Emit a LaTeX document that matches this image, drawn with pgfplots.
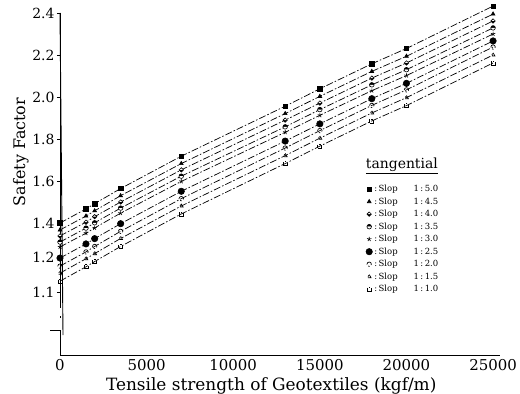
\documentclass[border=0pt]{standalone}
\usepackage{fontspec}
\setmainfont{DejaVu Serif}
\usepackage{pgfplots}
\usepackage{pgfplotstable}
\pgfplotsset{compat=1.18}
\usetikzlibrary{plotmarks}

\pgfplotstableread{
x     s1    s2    s3    s4    s5    s6    s7    s8    s9
0     1.400 1.359 1.324 1.288 1.259 1.197 1.174 1.154 1.131
1500  1.467 1.433 1.404 1.370 1.340 1.277 1.230 1.195 1.172
2000  1.492 1.458 1.430 1.401 1.371 1.308 1.262 1.220 1.187
3500  1.564 1.530 1.500 1.471 1.447 1.396 1.351 1.309 1.262
7000  1.718 1.683 1.653 1.623 1.598 1.551 1.516 1.481 1.443
13000 1.956 1.921 1.890 1.858 1.832 1.790 1.757 1.721 1.683
15000 2.039 2.003 1.971 1.940 1.913 1.872 1.840 1.804 1.766
18000 2.158 2.122 2.090 2.058 2.030 1.992 1.960 1.924 1.886
20000 2.231 2.194 2.162 2.130 2.102 2.065 2.034 1.997 1.959
25000 2.433 2.395 2.362 2.329 2.300 2.267 2.238 2.200 2.162
}\safety

\begin{document}
\begin{tikzpicture}
\useasboundingbox (-60bp,-39bp) rectangle (460bp,355bp);
\begin{axis}[
  scale only axis, width=440bp, height=352.5bp,
  xmin=0, xmax=25400, ymin=0.92, ymax=2.45,
  clip=false,
  y coord trafo/.code={%
    \begingroup
    \pgfkeys{/pgf/fpu=false}%
    \pgfmathparse{(#1>=1.4)*(#1)+(#1<1.4)*(#1>=1.2)*(1.4-(1.4-#1)*0.809524)+(#1<1.2)*(1.238095-(1.2-#1)*1.666667)}%
    \global\let\mytrafores\pgfmathresult
    \endgroup
    \let\pgfmathresult\mytrafores
  },
  axis x line*=bottom, axis y line*=left,
  x axis line style={-, line width=0.9bp},
  y axis line style={draw=none},
  scaled x ticks=false,
  xtick={0,5000,10000,15000,20000,25000},
  xticklabels={0,5000,10000,15000,20000,25000},
  xtick style={draw=none},
  ytick={1.1,1.2,1.4,1.6,1.8,2.0,2.2,2.4},
  yticklabels={1.1,1.2,1.4,1.6,1.8,2.0,2.2,2.4},
  ytick style={line width=0.7bp, black},
  tick align=outside, major tick length=3bp,
  xticklabel style={font=\fontsize{15}{16}\selectfont, yshift=2bp},
  yticklabel style={font=\fontsize{14}{15}\selectfont, xshift=1bp},
  xlabel={Tensile strength of Geotextiles (kgf/m)},
  xlabel style={font=\fontsize{17}{18}\selectfont, at={(axis description cs:0.48,0)}, anchor=north, yshift=-19bp},
  ylabel={Safety Factor},
  ylabel style={font=\fontsize{16}{17}\selectfont, at={(axis description cs:-0.089,0.576)}, anchor=center, rotate=0},
  every axis plot/.append style={black, line width=0.7bp, dash pattern=on 7bp off 2bp on 1.5bp off 2bp,
    mark options={solid, draw=black, fill=black, line width=0.6bp}},
  legend image code/.code={\draw[#1] plot coordinates {(0.1cm,0cm)};},
  legend style={at={(axis description cs:0.695,0.488)}, anchor=north west, draw=none, fill=none,
    font=\fontsize{8.5}{9}\selectfont, inner sep=0pt, row sep=0.6bp, cells={anchor=west}},
  legend cell align=left,
]
\addplot[black, mark=square*, mark size=2.2bp] table[x=x,y=s1]{\safety};
\addlegendentry{:\,Slop\hspace{16bp}1\,:\,5.0}
\addplot[black, mark=triangle*, mark size=2.2bp] table[x=x,y=s2]{\safety};
\addlegendentry{:\,Slop\hspace{16bp}1\,:\,4.5}
\addplot[black, mark=halfsquare*, mark size=2.2bp] table[x=x,y=s3]{\safety};
\addlegendentry{:\,Slop\hspace{16bp}1\,:\,4.0}
\addplot[black, mark=halfcircle*, mark size=2.3bp] table[x=x,y=s4]{\safety};
\addlegendentry{:\,Slop\hspace{16bp}1\,:\,3.5}
\addplot[black, mark=star, mark size=2.3bp] table[x=x,y=s5]{\safety};
\addlegendentry{:\,Slop\hspace{16bp}1\,:\,3.0}
\addplot[black, mark=*, mark size=3.2bp] table[x=x,y=s6]{\safety};
\addlegendentry{:\,Slop\hspace{16bp}1\,:\,2.5}
\addplot[black, mark=o, mark size=2.2bp, mark options={fill=white}] table[x=x,y=s7]{\safety};
\addlegendentry{:\,Slop\hspace{16bp}1\,:\,2.0}
\addplot[black, mark=triangle, mark size=2.2bp, mark options={fill=white}] table[x=x,y=s8]{\safety};
\addlegendentry{:\,Slop\hspace{16bp}1\,:\,1.5}
\addplot[black, mark=square, mark size=2bp, mark options={fill=white}] table[x=x,y=s9]{\safety};
\addlegendentry{:\,Slop\hspace{16bp}1\,:\,1.0}
% broken y axis line
\draw[line width=0.9bp, solid] (rel axis cs:0,0.9702) -- ++(3bp,0);
\draw[line width=0.9bp, solid] (rel axis cs:0,0.9702) -- (rel axis cs:0,0.1333);
\draw[line width=0.5bp, solid] (rel axis cs:0,0.110) -- (rel axis cs:0,0.106);
\draw[line width=0.9bp, solid] (rel axis cs:-0.0227,0.0709) -- (rel axis cs:0,0.0709) -- (rel axis cs:0,0);
\node[font=\fontsize{14}{15}\selectfont, inner sep=1bp] at (axis description cs:0.777,0.536) {\underline{tangential}};
\end{axis}
\end{tikzpicture}
\end{document}
